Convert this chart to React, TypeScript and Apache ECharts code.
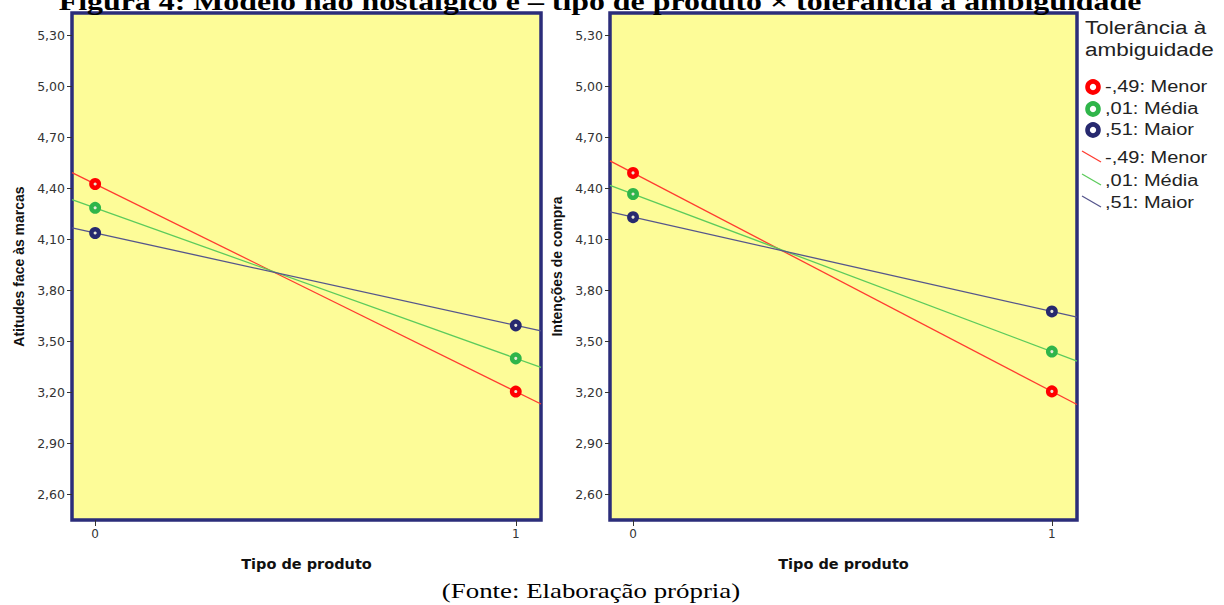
import React, { useEffect, useRef } from "react";
import * as echarts from "echarts";

// ---- data ----
const productTypes = [0, 1];
const groupNames = ["-,49: Menor", ",01: Média", ",51: Maior"];
const attitudeMenor = [4.425, 3.205];
const attitudeMedia = [4.285, 3.4];
const attitudeMaior = [4.137, 3.594];
const intentionMenor = [4.49, 3.206];
const intentionMedia = [4.366, 3.44];
const intentionMaior = [4.23, 3.676];
const yTicks = [2.6, 2.9, 3.2, 3.5, 3.8, 4.1, 4.4, 4.7, 5.0, 5.3];
const xTicks = [0, 1];

const pointColors = ["#ff0000", "#2fb54a", "#27296f"];
const lineColors = ["#ff3b30", "#5ccb5c", "#55558c"];
const X_MIN = -0.055;
const X_MAX = 1.06;
const Y_MIN = 2.45;
const Y_MAX = 5.43;

const fmt = (v: number) => v.toFixed(2).replace(".", ",");

function buildSeries(groups: number[][], gi: number) {
  const s: any[] = [];
  groups.forEach((vals, k) => {
    const slope = vals[1] - vals[0];
    s.push({
      type: "line",
      name: groupNames[k] + " fit",
      xAxisIndex: gi,
      yAxisIndex: gi,
      data: [
        [X_MIN, vals[0] + slope * X_MIN],
        [X_MAX, vals[0] + slope * X_MAX],
      ],
      showSymbol: false,
      symbol: "none",
      lineStyle: { color: lineColors[k], width: 1.3 },
      z: 2,
      silent: true,
    });
  });
  groups.forEach((vals, k) => {
    s.push({
      type: "scatter",
      name: groupNames[k],
      xAxisIndex: gi,
      yAxisIndex: gi,
      data: productTypes.map((x, i) => [x, vals[i]]),
      symbol: "circle",
      symbolSize: 7.5,
      itemStyle: { color: "#e8e8d8", borderColor: pointColors[k], borderWidth: 4.4, opacity: 1 },
      z: 3,
    });
  });
  return s;
}

const axisFont = "DejaVu Sans, Verdana, sans-serif";

function yAxis(gi: number, name: string) {
  return {
    type: "value",
    gridIndex: gi,
    position: "left",
    min: Y_MIN,
    max: Y_MAX,
    name,
    nameLocation: "middle",
    nameGap: 46,
    nameTextStyle: { fontFamily: "Liberation Sans, Arial, sans-serif", fontWeight: "bold", fontSize: 14, color: "#111" },
    axisLine: { show: false, onZero: false },
    splitLine: { show: false },
    axisTick: { show: true, customValues: yTicks, length: 5, lineStyle: { color: "#333", width: 1 } },
    axisLabel: {
      customValues: yTicks,
      formatter: fmt,
      fontFamily: axisFont,
      fontSize: 12.5,
      color: "#333",
      margin: 7,
    },
  };
}

function xAxis(gi: number) {
  return {
    type: "value",
    gridIndex: gi,
    position: "bottom",
    min: X_MIN,
    max: X_MAX,
    name: "Tipo de produto",
    nameLocation: "middle",
    nameGap: 36,
    nameTextStyle: { fontFamily: axisFont, fontWeight: "bold", fontSize: 14.5, color: "#111" },
    axisLine: { show: false, onZero: false },
    splitLine: { show: false },
    axisTick: { show: true, customValues: xTicks, length: 6, lineStyle: { color: "#333", width: 1 } },
    axisLabel: {
      customValues: xTicks,
      formatter: (v: number) => String(v),
      fontFamily: axisFont,
      fontSize: 12,
      color: "#333",
      margin: 8,
    },
  };
}

const SX = 1.25; // horizontal stretch of the reference picture

function legendGraphics() {
  const g: any[] = [];
  const lf = "Liberation Sans, Arial, sans-serif";
  g.push({
    type: "text",
    x: 1085,
    y: 17,
    scaleX: SX,
    style: { text: "Tolerância à\nambiguidade", fontFamily: lf, fontSize: 18, lineHeight: 22, fill: "#222" },
  });
  const ys1 = [87, 109, 130];
  groupNames.forEach((n, k) => {
    g.push({
      type: "circle",
      shape: { cx: 1093, cy: ys1[k], r: 5.5 },
      style: { fill: "#fff", stroke: pointColors[k], lineWidth: 4.6 },
    });
    g.push({
      type: "text",
      x: 1105,
      y: ys1[k],
      scaleX: SX,
      style: { text: n, fontFamily: lf, fontSize: 16, fill: "#222", verticalAlign: "middle" },
    });
  });
  const ys2 = [158, 181, 203];
  groupNames.forEach((n, k) => {
    g.push({
      type: "line",
      shape: { x1: 1082, y1: ys2[k] - 7, x2: 1101, y2: ys2[k] + 4 },
      style: { stroke: lineColors[k], lineWidth: 1.3 },
    });
    g.push({
      type: "text",
      x: 1105,
      y: ys2[k],
      scaleX: SX,
      style: { text: n, fontFamily: lf, fontSize: 16, fill: "#222", verticalAlign: "middle" },
    });
  });
  return g;
}

export default function App() {
  const ref = useRef<HTMLDivElement>(null);
  useEffect(() => {
    if (!ref.current) return;
    const chart = echarts.init(ref.current, undefined, { renderer: "svg" });
    const gridBase = {
      show: true,
      backgroundColor: "#fdfc98",
      borderColor: "#2b2d7a",
      borderWidth: 3.5,
      containLabel: false,
    };
    chart.setOption({
      animation: false,
      backgroundColor: "#ffffff",
      grid: [
        { ...gridBase, left: 72, top: 13, width: 469, height: 507 },
        { ...gridBase, left: 610, top: 13, width: 467, height: 507 },
      ],
      xAxis: [xAxis(0), xAxis(1)],
      yAxis: [yAxis(0, "Atitudes face às marcas"), yAxis(1, "Intenções de compra")],
      series: [
        ...buildSeries([attitudeMenor, attitudeMedia, attitudeMaior], 0),
        ...buildSeries([intentionMenor, intentionMedia, intentionMaior], 1),
      ],
      graphic: [
        {
          type: "text",
          x: 600,
          y: 14,
          scaleX: SX,
          style: {
            text: "Figura 4: Modelo não nostálgico e – tipo de produto × tolerância à ambiguidade",
            fontFamily: "Liberation Serif, Times New Roman, serif",
            fontWeight: "bold",
            fontSize: 25.5,
            fill: "#000",
            align: "center",
            verticalAlign: "bottom",
          },
          z: 0,
        },
        {
          type: "text",
          x: 591,
          y: 590,
          scaleX: SX,
          style: {
            text: "(Fonte: Elaboração própria)",
            fontFamily: "Liberation Serif, Times New Roman, serif",
            fontSize: 21.5,
            fill: "#000",
            align: "center",
            verticalAlign: "middle",
          },
        },
        ...legendGraphics(),
      ],
    });
    return () => chart.dispose();
  }, []);
  return (
    <div
      ref={ref}
      style={{ position: "fixed", left: 0, top: 0, width: 1224, height: 605 }}
    />
  );
}
